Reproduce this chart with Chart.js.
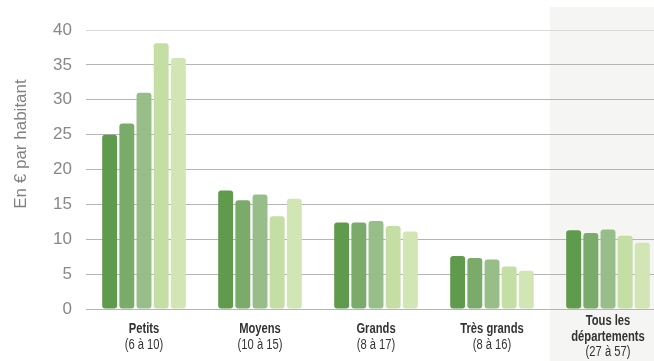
<!DOCTYPE html>
<html lang="fr">
<head>
<meta charset="utf-8">
<title>Dépenses par habitant</title>
<script src="https://cdn.jsdelivr.net/npm/chart.js@4"></script>
<style>
    html, body { margin: 0; padding: 0; background: #fff; }
    #wrap { width: 654px; height: 361px; overflow: hidden; position: relative; }
    #wrap canvas { position: absolute; left: 0; top: 0; }
</style>
</head>
<body>
<div id="wrap">
    <canvas id="chart" width="670" height="361"></canvas>
</div>
<script>
// Strates de départements (nom en gras, nombre de départements entre parenthèses)
const categories = ['Petits', 'Moyens', 'Grands', 'Très grands', 'Tous les départements'];
const categoryNames = [['Petits'], ['Moyens'], ['Grands'], ['Très grands'], ['Tous les', 'départements']];
const categoryRanges = ['(6 à 10)', '(10 à 15)', '(8 à 17)', '(8 à 16)', '(27 à 57)'];

// Cinq séries, du vert foncé au vert clair
const serie1 = [25.0, 17.0, 12.4, 7.6, 11.3];
const serie2 = [26.6, 15.6, 12.4, 7.3, 10.9];
const serie3 = [31.0, 16.4, 12.6, 7.1, 11.4];
const serie4 = [38.1, 13.3, 11.9, 6.1, 10.5];
const serie5 = [36.0, 15.8, 11.1, 5.5, 9.5];
const serieColors = ['#5f9a4d', '#7bab6a', '#97bd88', '#c4dea3', '#d2e5b5'];

const yTicks = [0, 5, 10, 15, 20, 25, 30, 35, 40];
const yTitle = 'En € par habitant';

const series = [serie1, serie2, serie3, serie4, serie5];

// fond grisé derrière la dernière colonne (total)
const shadePlugin = {
    id: 'shade',
    beforeDraw(chart) {
        const x = chart.scales.x;
        const ctx = chart.ctx;
        const idx = categories.length - 1;
        const half = (x.getPixelForValue(1) - x.getPixelForValue(0)) / 2;
        const left = x.getPixelForValue(idx) - half;
        ctx.save();
        ctx.fillStyle = '#f5f5f3';
        ctx.fillRect(left, 7, chart.width - left, chart.height - 7);
        ctx.restore();
    }
};

// libellés des catégories (police resserrée) et titre de l'axe vertical
const labelsPlugin = {
    id: 'labels',
    afterDraw(chart) {
        const x = chart.scales.x;
        const ctx = chart.ctx;
        const lh = 15.5;
        const mid = 337;
        ctx.save();
        ctx.textAlign = 'center';
        ctx.textBaseline = 'middle';
        ctx.fillStyle = '#333333';
        categories.forEach((c, i) => {
            const lines = categoryNames[i].map(t => ({ t, bold: true }));
            lines.push({ t: categoryRanges[i], bold: false });
            const y0 = mid - (lines.length - 1) * lh / 2;
            const cx = x.getPixelForValue(i);
            lines.forEach((l, j) => {
                ctx.save();
                ctx.translate(cx, y0 + j * lh);
                ctx.scale(0.8, 1);
                ctx.font = (l.bold ? 'bold ' : '') + '14px "Liberation Sans", sans-serif';
                ctx.fillText(l.t, 0, 0);
                ctx.restore();
            });
        });

        ctx.translate(21, 144);
        ctx.rotate(-Math.PI / 2);
        ctx.font = '17px "Liberation Sans", sans-serif';
        ctx.fillStyle = '#808080';
        ctx.fillText(yTitle, 0, 0);
        ctx.restore();
    }
};

new Chart(document.getElementById('chart'), {
    type: 'bar',
    data: {
        labels: categories,
        datasets: series.map((s, i) => ({
            label: 'Série ' + (i + 1),
            data: s,
            backgroundColor: serieColors[i],
            borderRadius: 3,
            borderSkipped: false,
            barPercentage: 0.87,
            categoryPercentage: 0.74
        }))
    },
    options: {
        responsive: false,
        animation: false,
        devicePixelRatio: 1,
        layout: { padding: { top: 30, right: 4, bottom: 52, left: 0 } },
        plugins: {
            legend: { display: false },
            tooltip: { enabled: false }
        },
        scales: {
            x: {
                display: false
            },
            y: {
                min: 0,
                max: 40,
                afterFit(scale) { scale.width = 86; },
                afterBuildTicks(scale) { scale.ticks = yTicks.map(v => ({ value: v })); },
                border: { display: false },
                grid: {
                    drawTicks: false,
                    color: ctx => ctx.tick && ctx.tick.value === 40 ? '#dadada' : '#b5b5b5'
                },
                ticks: {
                    padding: 14,
                    color: '#888888',
                    font: { family: '"Liberation Sans", sans-serif', size: 17 }
                }
            }
        }
    },
    plugins: [shadePlugin, labelsPlugin]
});
</script>
</body>
</html>
